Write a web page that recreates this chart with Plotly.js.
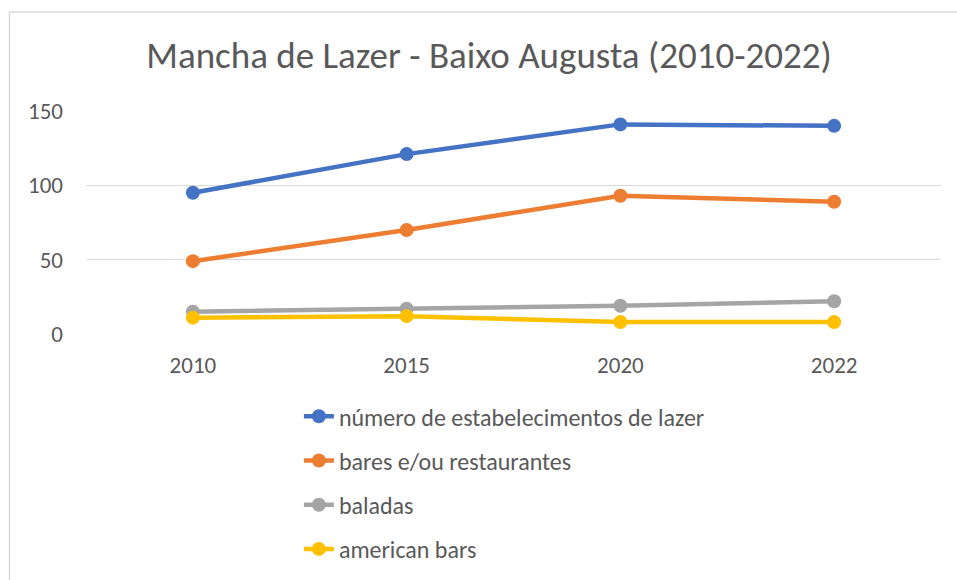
<!DOCTYPE html>
<html>
<head>
<meta charset="utf-8">
<script src="https://cdn.plot.ly/plotly-3.0.1.min.js"></script>
<style>html,body{margin:0;padding:0;background:#fff;}#chart{width:957px;height:580px;}</style>
</head>
<body>
<div id="chart"></div>
<script>
var categories = ["2010", "2015", "2020", "2022"];
var seriesNames = ["número de estabelecimentos de lazer", "bares e/ou restaurantes", "baladas", "american bars"];
var estabelecimentos = [95, 121, 141, 140];
var bares = [49, 70, 93, 89];
var baladas = [15, 17, 19, 22];
var americanBars = [11, 12, 8, 8];
var yTicks = [0, 50, 100, 150];

var colors = ["#4472C4", "#ED7D31", "#A5A5A5", "#FFC000"];
var values = [estabelecimentos, bares, baladas, americanBars];

var traces = values.map(function (v, i) {
  return {
    x: categories, y: v, name: seriesNames[i], type: "scatter", mode: "lines+markers",
    line: {color: colors[i], width: 4.5},
    marker: {color: colors[i], size: 14},
    legendgroup: "g" + i
  };
});

var font = "Carlito, Calibri, 'Open Sans', sans-serif";
var layout = {
  width: 957, height: 580,
  margin: {l: 86, r: 16, t: 111, b: 246, autoexpand: false},
  paper_bgcolor: "#fff", plot_bgcolor: "#fff",
  title: {text: "Mancha de Lazer - Baixo Augusta (2010-2022)", font: {family: font, size: 37, color: "#595959"}, x: 0.511, xanchor: "center", y: 0.905, yanchor: "middle"},
  xaxis: {type: "category", range: [-0.5, 3.5], showgrid: false, zeroline: false, showline: false, ticks: "", automargin: false,
          tickfont: {family: font, size: 23, color: "#595959"}, ticklabelstandoff: 15, fixedrange: true},
  yaxis: {range: [0, 150], tickvals: yTicks, showgrid: true, gridcolor: "#d9d9d9", gridwidth: 1.3, zeroline: false, showline: false, ticks: "", automargin: false,
          tickfont: {family: font, size: 23, color: "#595959"}, ticklabelstandoff: 22, fixedrange: true},
  showlegend: true,
  legend: {x: 0.249, xanchor: "left", y: -0.27, yanchor: "top", orientation: "v", traceorder: "grouped", tracegroupgap: 10,
           font: {family: font, size: 24, color: "#595959"}, bgcolor: "rgba(0,0,0,0)"},
  shapes: [{type: "rect", xref: "paper", yref: "paper", x0: -0.0895, x1: 1.05, y0: -1.3, y1: 1.444,
            line: {color: "#d9d9d9", width: 1.5}, fillcolor: "rgba(0,0,0,0)", layer: "below"}]
};

Plotly.newPlot("chart", traces, layout, {displayModeBar: false, staticPlot: true});
</script>
</body>
</html>
